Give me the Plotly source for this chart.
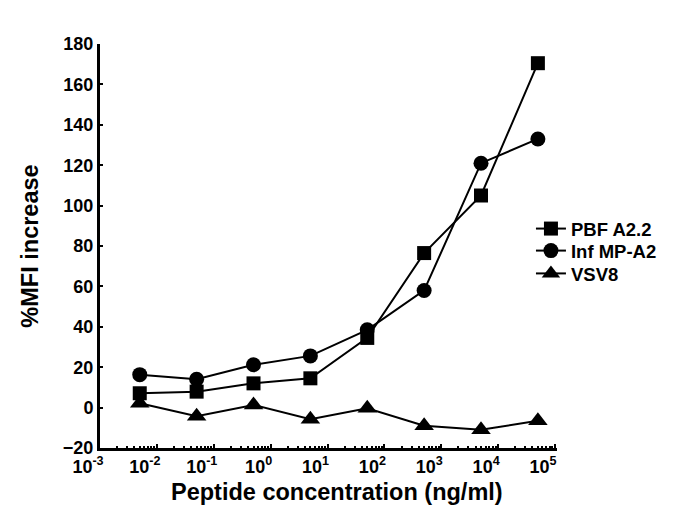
import plotly.graph_objects as go

conc = [0.005, 0.05, 0.5, 5, 50, 500, 5000, 50000]
pbf_a22 = [7.1, 7.9, 12.0, 14.5, 34.5, 76.5, 105.0, 170.5]
inf_mp_a2 = [16.3, 14.0, 21.2, 25.6, 38.5, 58.0, 121.0, 133.0]
vsv8 = [2.2, -4.3, 1.3, -5.8, -0.3, -9.0, -11.0, -6.5]

decades = [1e-3, 1e-2, 1e-1, 1, 10, 100, 1e3, 1e4, 1e5]
decade_labels = ['10<sup>-3</sup>', '10<sup>-2</sup>', '10<sup>-1</sup>', '10<sup>0</sup>',
                 '10<sup>1</sup>', '10<sup>2</sup>', '10<sup>3</sup>', '10<sup>4</sup>', '10<sup>5</sup>']
minor_vals = [m * d for d in decades[:-1] for m in range(2, 10)]

series = [
    ('PBF A2.2', pbf_a22, 'square', 14, 'legend', 0.589),
    ('Inf MP-A2', inf_mp_a2, 'circle', 15, 'legend2', 0.5345),
    ('VSV8', vsv8, 'triangle-up', 17, 'legend3', 0.478),
]

font_family = 'Liberation Sans, Arial, Helvetica, sans-serif'
legend_font = dict(size=18.5, family=font_family, weight='bold')

fig = go.Figure()
legends = {}
for name, vals, sym, size, leg, leg_y in series:
    fig.add_trace(go.Scatter(
        x=conc, y=vals, name=name, mode='lines+markers', legend=leg,
        showlegend=True,
        line=dict(color='black', width=2),
        marker=dict(symbol=sym, size=size, color='black'),
    ))
    # one legend per entry so the rows sit as tight as in the original
    legends[leg] = dict(x=0.943, y=leg_y, xanchor='left', yanchor='top',
                        font=legend_font, bgcolor='rgba(0,0,0,0)', itemwidth=30)

# page body has an 8px margin, so the figure is 8px smaller than the window
fig.update_layout(
    width=677, height=507,
    margin=dict(l=92, r=128, t=36, b=67),
    paper_bgcolor='white', plot_bgcolor='white',
    font=dict(family=font_family, color='black', weight='bold'),
    showlegend=True,
    **legends,
)

fig.add_annotation(
    text='Peptide concentration (ng/ml)', xref='paper', yref='paper',
    x=0.5, y=0, xshift=8, yshift=-44, xanchor='center', yanchor='middle',
    showarrow=False, font=dict(size=23.5, family=font_family, weight='bold'),
)

fig.update_xaxes(
    type='log', range=[-3, 5.035],
    tickvals=decades, ticktext=decade_labels, ticklabelshift=-12,
    ticks='inside', ticklen=4, tickwidth=2, tickcolor='black',
    minor=dict(tickvals=minor_vals, ticks='inside', ticklen=2, tickwidth=2, tickcolor='black'),
    showline=True, linewidth=3, linecolor='black',
    showgrid=False, zeroline=False,
    tickfont=dict(size=18, family=font_family, weight='bold'),
)

fig.update_yaxes(
    range=[-20, 180], tickvals=list(range(-20, 181, 20)),
    ticks='inside', ticklen=3, tickwidth=2, tickcolor='black',
    showline=True, linewidth=3, linecolor='black',
    showgrid=False, zeroline=False,
    tickfont=dict(size=18, family=font_family, weight='bold'),
    title=dict(text='%MFI increase', standoff=18,
               font=dict(size=23.5, family=font_family, weight='bold')),
)

fig.write_html("out.html")
